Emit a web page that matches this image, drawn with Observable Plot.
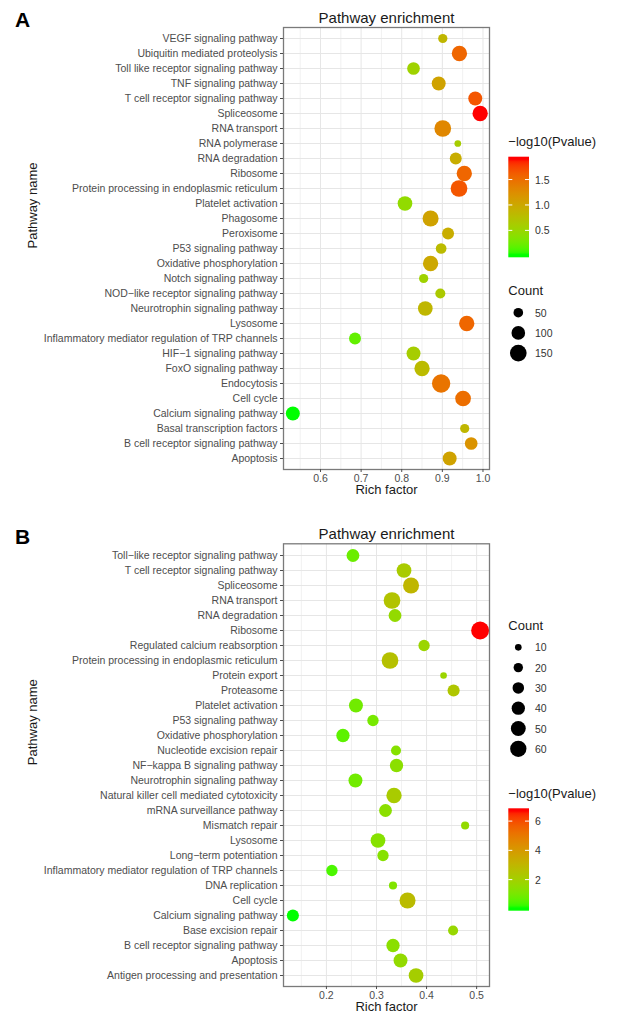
<!DOCTYPE html>
<html>
<head>
<meta charset="utf-8">
<script src="https://cdn.jsdelivr.net/npm/d3@7"></script>
<script src="https://cdn.jsdelivr.net/npm/@observablehq/plot@0.6"></script>
<style>
  html, body { margin: 0; padding: 0; background: white; }
  .panel { position: relative; width: 638px; }
  svg { display: block; }
</style>
</head>
<body>
<div id="panelA" class="panel"></div>
<div id="panelB" class="panel"></div>
<script>
// ---------- Panel A data ----------
const pathA = ["VEGF signaling pathway","Ubiquitin mediated proteolysis","Toll like receptor signaling pathway","TNF signaling pathway","T cell receptor signaling pathway","Spliceosome","RNA transport","RNA polymerase","RNA degradation","Ribosome","Protein processing in endoplasmic reticulum","Platelet activation","Phagosome","Peroxisome","P53 signaling pathway","Oxidative phosphorylation","Notch signaling pathway","NOD−like receptor signaling pathway","Neurotrophin signaling pathway","Lysosome","Inflammatory mediator regulation of TRP channels","HIF−1 signaling pathway","FoxO signaling pathway","Endocytosis","Cell cycle","Calcium signaling pathway","Basal transcription factors","B cell receptor signaling pathway","Apoptosis"];
const richA = [0.901,0.942,0.829,0.891,0.981,0.993,0.901,0.938,0.933,0.954,0.941,0.808,0.871,0.914,0.897,0.871,0.854,0.895,0.858,0.960,0.685,0.829,0.850,0.897,0.951,0.532,0.955,0.971,0.918];
const countA = [46,126,87,105,105,126,150,24,77,126,150,116,138,77,62,126,46,54,116,126,77,105,126,180,132,105,46,87,105];
const pvalA = [0.85,1.55,0.55,1.05,1.65,1.9,1.3,0.6,0.95,1.55,1.65,0.45,1.05,0.95,0.8,1.0,0.55,0.65,0.85,1.55,0.2,0.6,0.8,1.45,1.5,0.02,0.85,1.2,1.05];
const xMajorA = [0.6,0.7,0.8,0.9,1.0];
const xMinorA = [0.55,0.65,0.75,0.85,0.95];
const countKeysA = [50,100,150];
const colorTicksA = [0.5,1.0,1.5];

// ---------- Panel B data ----------
const pathB = ["Toll−like receptor signaling pathway","T cell receptor signaling pathway","Spliceosome","RNA transport","RNA degradation","Ribosome","Regulated calcium reabsorption","Protein processing in endoplasmic reticulum","Protein export","Proteasome","Platelet activation","P53 signaling pathway","Oxidative phosphorylation","Nucleotide excision repair","NF−kappa B signaling pathway","Neurotrophin signaling pathway","Natural killer cell mediated cytotoxicity","mRNA surveillance pathway","Mismatch repair","Lysosome","Long−term potentiation","Inflammatory mediator regulation of TRP channels","DNA replication","Cell cycle","Calcium signaling pathway","Base excision repair","B cell receptor signaling pathway","Apoptosis","Antigen processing and presentation"];
const richB = [0.253,0.355,0.369,0.331,0.337,0.507,0.395,0.327,0.434,0.454,0.259,0.293,0.233,0.339,0.340,0.258,0.335,0.318,0.477,0.303,0.313,0.211,0.333,0.362,0.133,0.453,0.333,0.348,0.379];
const countB = [37,49,58,63,37,73,29,63,10,33,44,29,40,23,40,44,53,37,15,49,29,29,15,58,33,23,40,44,49];
const pvalB = [0.8,2.2,3.0,2.5,1.6,6.7,1.8,2.6,1.8,2.4,0.9,1.0,0.6,1.3,1.4,0.9,2.2,1.4,1.6,1.3,1.3,0.4,1.2,2.8,0.05,1.7,1.4,1.6,2.1];
const xMajorB = [0.2,0.3,0.4,0.5];
const xMinorB = [0.15,0.25,0.35,0.45];
const countKeysB = [10,20,30,40,50,60];
const colorTicksB = [2,4,6];

const FONT = "'Liberation Sans', Arial, Helvetica, sans-serif";

function makePanel(cfg) {
  const data = cfg.paths.map((name, i) => ({name, rich: cfg.rich[i], count: cfg.count[i], p: cfg.pval[i]}));
  const ext = d3.extent(cfg.rich);
  const pad = (ext[1] - ext[0]) * 0.05;
  const xd = [ext[0] - pad, ext[1] + pad];
  const ML = 283, MR = 149;
  const plot = Plot.plot({
    width: 638, height: cfg.height,
    marginLeft: ML, marginRight: MR, marginTop: cfg.mt, marginBottom: cfg.mb,
    style: {fontFamily: FONT, fontSize: "10.5px", background: "white", color: "#4d4d4d"},
    x: {domain: xd, label: null},
    y: {type: "point", domain: cfg.paths, padding: 0.6, label: null},
    r: {domain: [0, cfg.rDom], range: [0, cfg.rPx]},
    color: {type: "linear", domain: d3.extent(cfg.pval), range: ["#00ff00", "#ff0000"], interpolate: d3.interpolateLab},
    marks: [
      Plot.gridX(cfg.xMinor, {stroke: "#ededed", strokeOpacity: 1, strokeWidth: 0.8}),
      Plot.gridX(cfg.xMajor, {stroke: "#e6e6e6", strokeOpacity: 1, strokeWidth: 1}),
      Plot.gridY({stroke: "#e6e6e6", strokeOpacity: 1, strokeWidth: 1}),
      Plot.dot(data, {x: "rich", y: "name", r: "count", fill: "p"}),
      Plot.frame({stroke: "#7a7a7a", strokeWidth: 1.3}),
      Plot.axisX(cfg.xMajor, {tickSize: 3, tickPadding: 2, tickFormat: d => d.toFixed(1), color: "#4d4d4d", fontSize: 10.5, label: null}),
      Plot.axisY({tickSize: 3, tickPadding: 3, color: "#4d4d4d", fontSize: 10.5, label: null}),
      Plot.text(["Pathway enrichment"], {text: d => d, frameAnchor: "top", dy: -15, fontSize: 15, fill: "#1a1a1a"}),
      Plot.text(["Rich factor"], {text: d => d, frameAnchor: "bottom", dy: 24.5, fontSize: 13, fill: "#1a1a1a"}),
      Plot.text(["Pathway name"], {text: d => d, frameAnchor: "left", dx: -251, rotate: -90, fontSize: 13, fill: "#1a1a1a"}),
      Plot.text([cfg.letter], {text: d => d, frameAnchor: "top-left", dx: -261, dy: cfg.letterDy, fontSize: 21, fontWeight: "bold", fill: "black", textAnchor: "middle"})
    ]
  });

  // ----- legends (drawn from the plot's own scales) -----
  const svg = d3.select(plot);
  const cs = plot.scale("color");
  const rs = plot.scale("r");
  const [cmin, cmax] = cs.domain;
  const g = svg.append("g").attr("font-family", FONT).attr("text-anchor", "start");
  const LX = 508.3;

  // colour bar
  const cb = cfg.colorbar;
  const barW = 20.7, barH = cb.bottom - cb.top;
  const gid = "grad" + cfg.letter;
  const grad = svg.append("defs").append("linearGradient").attr("id", gid)
    .attr("x1", 0).attr("y1", 1).attr("x2", 0).attr("y2", 0);
  const N = 40;
  grad.append("stop").attr("offset", 0).attr("stop-color", cs.apply(cmin));
  for (let i = 0; i <= N; i++) {
    const t = i / N;
    const v = cmin + t * (cmax - cmin);
    grad.append("stop").attr("offset", 0.025 + 0.95 * t).attr("stop-color", cs.apply(v));
  }
  grad.append("stop").attr("offset", 1).attr("stop-color", cs.apply(cmax));
  g.append("text").attr("x", LX).attr("y", cb.titleY).attr("dominant-baseline", "central")
    .attr("font-size", 13).attr("fill", "#1a1a1a").text("−log10(Pvalue)");
  g.append("rect").attr("x", LX).attr("y", cb.top).attr("width", barW).attr("height", barH).attr("fill", `url(#${gid})`);
  const vy = v => cb.top + 0.025 * barH + (cmax - v) / (cmax - cmin) * 0.95 * barH;
  for (const t of cfg.colorTicks) {
    const y = vy(t);
    g.append("line").attr("x1", LX).attr("x2", LX + 4).attr("y1", y).attr("y2", y).attr("stroke", "white").attr("stroke-width", 1);
    g.append("line").attr("x1", LX + barW - 4).attr("x2", LX + barW).attr("y1", y).attr("y2", y).attr("stroke", "white").attr("stroke-width", 1);
    g.append("text").attr("x", 535).attr("y", y).attr("dominant-baseline", "central")
      .attr("font-size", 10.5).attr("fill", "#333").text(cfg.intTicks ? String(t) : t.toFixed(1));
  }

  // size legend
  const sl = cfg.sizeLegend;
  g.append("text").attr("x", LX).attr("y", sl.titleY).attr("dominant-baseline", "central")
    .attr("font-size", 13).attr("fill", "#1a1a1a").text("Count");
  cfg.countKeys.forEach((c, i) => {
    const y = sl.firstY + i * sl.step;
    g.append("circle").attr("cx", 518.3).attr("cy", y).attr("r", rs.apply(c)).attr("fill", "black");
    g.append("text").attr("x", 535).attr("y", y).attr("dominant-baseline", "central")
      .attr("font-size", 10.5).attr("fill", "#333").text(c);
  });

  document.getElementById(cfg.target).appendChild(plot);
}

makePanel({
  target: "panelA", letter: "A", letterDy: -15,
  paths: pathA, rich: richA, count: countA, pval: pvalA,
  xMajor: xMajorA, xMinor: xMinorA,
  height: 510, mt: 27, mb: 41,
  rDom: 150, rPx: 8.35,
  colorTicks: colorTicksA, intTicks: false, countKeys: countKeysA,
  colorbar: {titleY: 141.7, top: 156.7, bottom: 257.3},
  sizeLegend: {titleY: 290, firstY: 312.7, step: 20.2}
});

makePanel({
  target: "panelB", letter: "B", letterDy: -14.5,
  paths: pathB, rich: richB, count: countB, pval: pvalB,
  xMajor: xMajorB, xMinor: xMinorB,
  height: 512, mt: 33.3, mb: 36,
  rDom: 60, rPx: 8.15,
  colorTicks: colorTicksB, intTicks: true, countKeys: countKeysB,
  colorbar: {titleY: 283.3, top: 298.3, bottom: 400.7},
  sizeLegend: {titleY: 115.7, firstY: 137.3, step: 20.3}
});
</script>
</body>
</html>
